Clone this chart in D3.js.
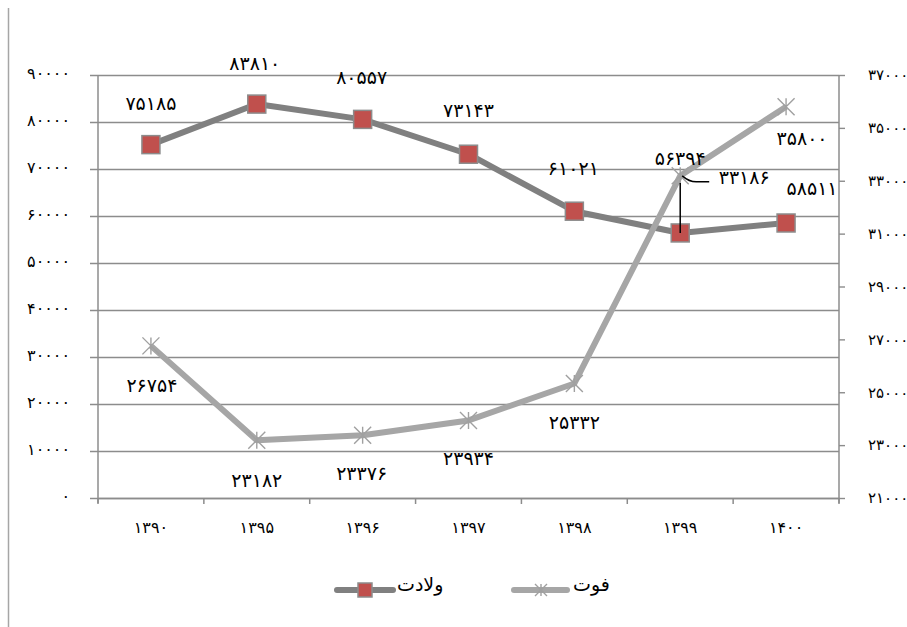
<!DOCTYPE html>
<html><head><meta charset="utf-8">
<script src="https://cdn.jsdelivr.net/npm/d3@7"></script>
<style>body{margin:0;background:#fff}svg{display:block}text{font-family:"DejaVu Sans",sans-serif;fill:#000}</style>
</head><body><svg id="c" width="907" height="627"></svg>
<script>
const categories = ["۱۳۹۰","۱۳۹۵","۱۳۹۶","۱۳۹۷","۱۳۹۸","۱۳۹۹","۱۴۰۰"];
const birthName = "ولادت";
const deathName = "فوت";
const births = [75185, 83810, 80557, 73143, 61021, 56394, 58511];
const deaths = [26754, 23182, 23376, 23934, 25332, 33186, 35800];
const leftTicks = [0,10000,20000,30000,40000,50000,60000,70000,80000,90000];
const rightTicks = [21000,23000,25000,27000,29000,31000,33000,35000,37000];

const fa = n => String(n).replace(/\d/g, d => "۰۱۲۳۴۵۶۷۸۹"[d]);
const svg = d3.select("#c");
const L = 98, R = 839, T = 75, B = 498;
const x = d3.scaleBand().domain(categories).range([L, R]);
const yL = d3.scaleLinear().domain([0, 90000]).range([B, T]);
const yR = d3.scaleLinear().domain([21000, 37000]).range([B, T]);
const cx = c => x(c) + x.bandwidth() / 2;
const axisCol = "#8c8c8c";

// frame line
svg.append("line").attr("x1",8.5).attr("x2",8.5).attr("y1",8).attr("y2",627).attr("stroke","#a6a6a6").attr("stroke-width",1.5);

// gridlines + left axis
const gl = svg.append("g").attr("transform", `translate(${L},0)`)
  .call(d3.axisLeft(yL).tickValues(leftTicks).tickSize(-(R - L)).tickSizeOuter(0).tickPadding(20).tickFormat(fa));
gl.select(".domain").remove();
gl.selectAll(".tick line").attr("stroke", axisCol).attr("stroke-width", 1.4).attr("x1", -8);
gl.selectAll(".tick text").attr("font-size", 16).attr("dy", "0.2em").attr("x", -28);
svg.append("line").attr("x1",L).attr("x2",L).attr("y1",T).attr("y2",B+5).attr("stroke",axisCol).attr("stroke-width",1.5);

// right axis
const gr = svg.append("g").attr("transform", `translate(${R},0)`)
  .call(d3.axisRight(yR).tickValues(rightTicks).tickSize(6).tickSizeOuter(0).tickPadding(23).tickFormat(fa));
gr.select(".domain").attr("stroke", axisCol).attr("stroke-width", 1.5).attr("d", `M0,${T}V${B+5}`);
gr.selectAll(".tick line").attr("stroke", axisCol).attr("stroke-width", 1.4);
gr.selectAll(".tick text").attr("font-size", 15).attr("text-anchor","start");

// x axis
const gx = svg.append("g").attr("transform", `translate(0,${B})`)
  .call(d3.axisBottom(x).tickSize(0).tickPadding(24));
gx.select(".domain").attr("stroke", axisCol).attr("stroke-width", 1.5);
gx.selectAll(".tick text").attr("font-size", 16);
const bounds = categories.map(c => x(c)).concat([R]);
svg.append("g").selectAll("line").data(bounds).join("line")
  .attr("x1", d => d).attr("x2", d => d).attr("y1", B).attr("y2", B + 6)
  .attr("stroke", axisCol).attr("stroke-width", 1.5);

// lines
const lineB = d3.line().x((d,i) => cx(categories[i])).y(d => yL(d));
const lineD = d3.line().x((d,i) => cx(categories[i])).y(d => yR(d));
const birthCol = "#808080", deathCol = "#a6a6a6";

svg.append("path").datum(births).attr("d", lineB).attr("fill","none").attr("stroke",birthCol).attr("stroke-width",6).attr("stroke-linejoin","round");

function star(g, px, py, s) {
  const h = s / 2;
  const p = `M${px-h},${py-h}L${px+h},${py+h}M${px-h},${py+h}L${px+h},${py-h}M${px},${py-h}L${px},${py+h}`;
  g.append("path").attr("d", p).attr("stroke", "#a0a0a0").attr("stroke-width", 1.4).attr("fill","none");
}
function square(g, px, py, s) {
  g.append("rect").attr("x", px - s/2).attr("y", py - s/2).attr("width", s).attr("height", s)
    .attr("fill", "#c0504d").attr("stroke", "#8c8c8c").attr("stroke-width", 1.5);
}

// birth markers
const mb = svg.append("g");
births.forEach((v,i) => square(mb, cx(categories[i]), yL(v), 18));

// death line + markers (drawn on top)
svg.append("path").datum(deaths).attr("d", lineD).attr("fill","none").attr("stroke",deathCol).attr("stroke-width",6).attr("stroke-linejoin","round");
const md = svg.append("g");
deaths.forEach((v,i) => star(md, cx(categories[i]), yR(v), 17));

// labels
const birthOff = [[0,-42],[-2,-41],[-1,-42],[0,-44],[-1,-43],[0,-75],[26,-35]];
const deathOff = [[1,39],[0,40],[-1,38],[0,38],[0,39],[64,1],[16,31]];
const lab = svg.append("g").attr("font-size", 19).attr("text-anchor","middle").attr("dominant-baseline","central");
births.forEach((v,i) => {
  lab.append("text").attr("x", cx(categories[i]) + birthOff[i][0]).attr("y", yL(v) + birthOff[i][1]).text(fa(v));
});
deaths.forEach((v,i) => {
  lab.append("text").attr("x", cx(categories[i]) + deathOff[i][0]).attr("y", yR(v) + deathOff[i][1]).text(fa(v));
});

// leader lines
{
  const px = cx(categories[5]);
  const pyB = yL(births[5]);
  svg.append("line").attr("x1", px).attr("x2", px).attr("y1", pyB - 50).attr("y2", pyB).attr("stroke","#000").attr("stroke-width",1.5);
  const pyD = yR(deaths[5]);
  svg.append("path").attr("d", `M${px+2},${pyD}Q${px+9},${pyD+6} ${px+16},${pyD+6}L${px+29},${pyD+6}`)
    .attr("fill","none").attr("stroke","#000").attr("stroke-width",1.5);
}

// legend
const lg = svg.append("g");
const ly = 590;
lg.append("line").attr("x1",337).attr("x2",393).attr("y1",ly).attr("y2",ly).attr("stroke",birthCol).attr("stroke-width",6).attr("stroke-linecap","round");
square(lg, 365, ly, 14);
lg.append("text").attr("x",397).attr("y",ly-6).attr("font-size",19).attr("text-anchor","start").attr("dominant-baseline","central").text(birthName);
lg.append("line").attr("x1",514).attr("x2",567).attr("y1",ly).attr("y2",ly).attr("stroke",deathCol).attr("stroke-width",6).attr("stroke-linecap","round");
star(lg, 541, ly, 12);
lg.append("text").attr("x",573).attr("y",ly-6).attr("font-size",19).attr("text-anchor","start").attr("dominant-baseline","central").text(deathName);
</script></body></html>
